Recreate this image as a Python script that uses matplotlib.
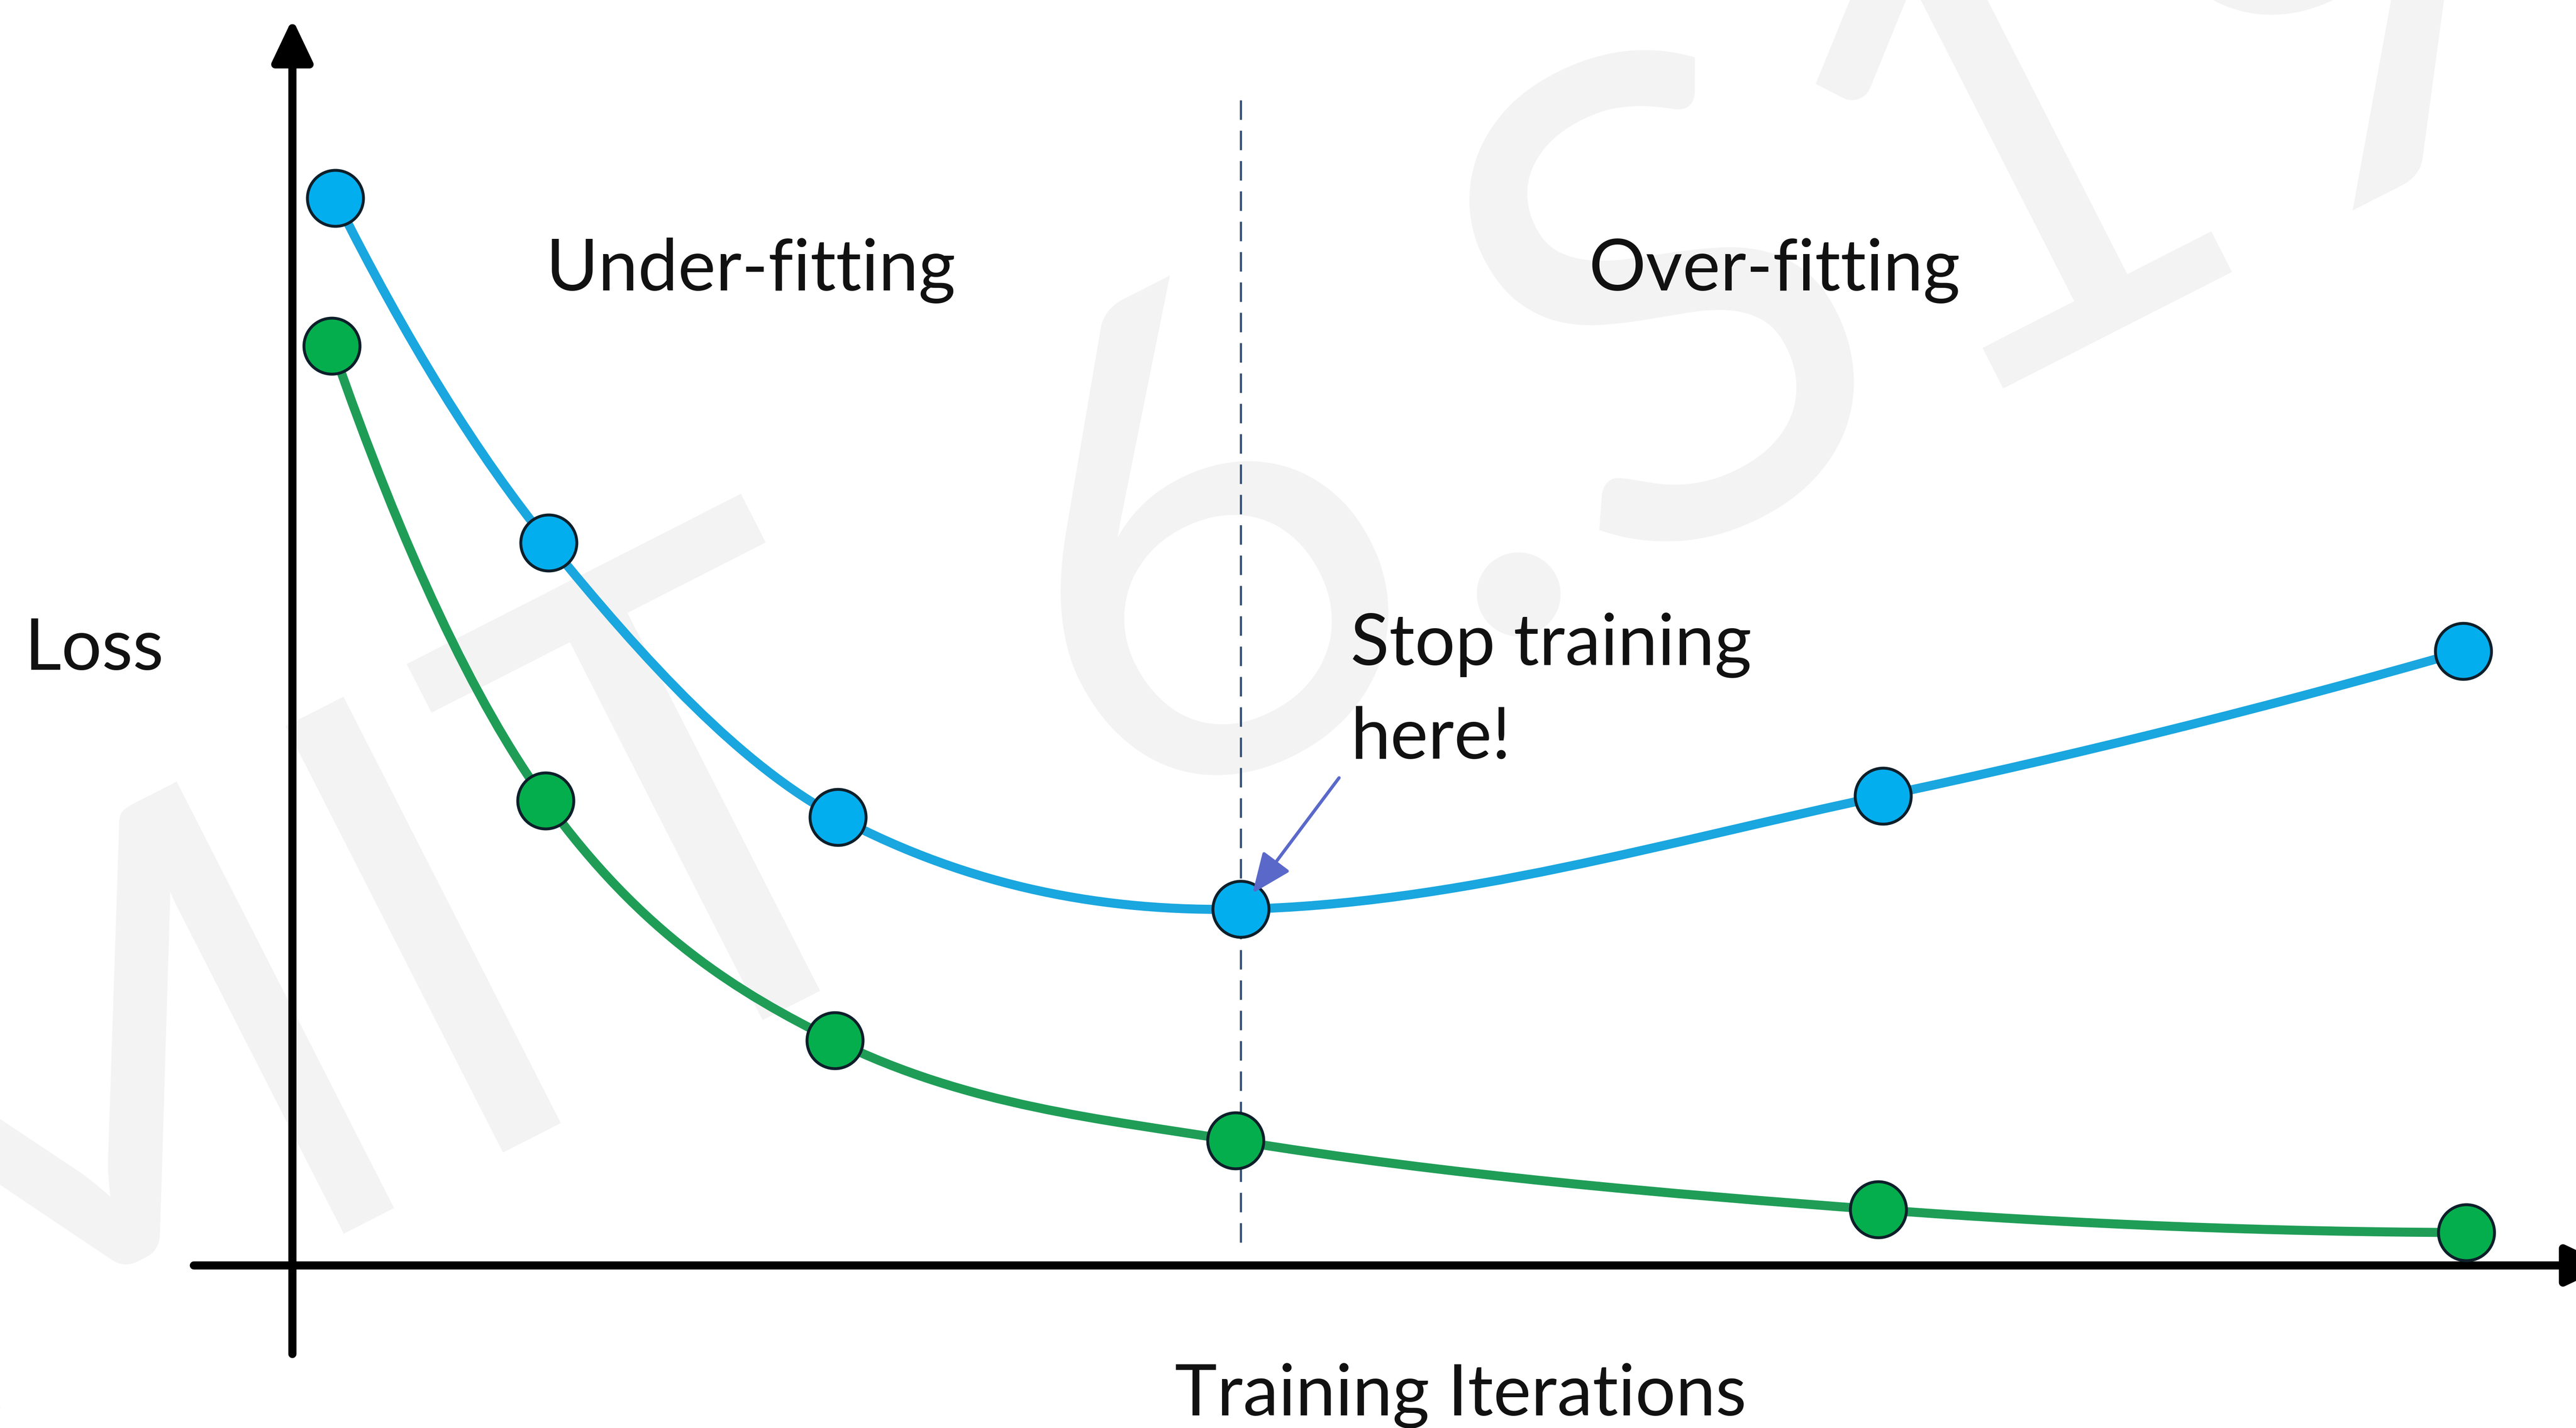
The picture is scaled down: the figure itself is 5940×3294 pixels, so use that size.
import numpy as np
import matplotlib
matplotlib.use("Agg")
import matplotlib.pyplot as plt
from matplotlib.path import Path
from matplotlib.patches import PathPatch

# data (arbitrary units)
val_iters = [1.97, 11.81, 25.13, 43.68, 73.28, 100.0]
val_loss = [100.0, 67.69, 42.0, 33.38, 44.0, 57.54]
train_iters = [1.82, 11.66, 24.98, 43.45, 73.05, 100.15]
train_loss = [86.15, 43.54, 21.08, 11.69, 5.23, 3.08]

region_labels = ["Under-fitting", "Over-fitting"]
x_label = "Training Iterations"
y_label = "Loss"
note_lines = ["Stop training", "here!"]
watermark = "MIT 6.S191"

blue_line, blue_fill = "#1aa6df", "#03aeee"
green_line, green_fill = "#1f9d57", "#05ae4c"
edge = "#0d1f2a"


def smooth_path(xs, ys):
    # cubic hermite through the points, drawn as bezier segments
    x = np.asarray(xs, float)
    y = np.asarray(ys, float)
    m = np.empty(len(x))
    m[1:-1] = (y[2:] - y[:-2]) / (x[2:] - x[:-2])
    m[0] = 2 * (y[1] - y[0]) / (x[1] - x[0]) - m[1]
    m[-1] = 2 * (y[-1] - y[-2]) / (x[-1] - x[-2]) - m[-2]
    verts = [(x[0], y[0])]
    codes = [Path.MOVETO]
    for i in range(len(x) - 1):
        h = x[i + 1] - x[i]
        verts += [(x[i] + h / 3, y[i] + m[i] * h / 3),
                  (x[i + 1] - h / 3, y[i + 1] - m[i + 1] * h / 3),
                  (x[i + 1], y[i + 1])]
        codes += [Path.CURVE4] * 3
    return Path(verts, codes)


fig = plt.figure(figsize=(19.8, 10.9833), dpi=300)
ax = fig.add_axes([0, 0, 1, 1])
ax.set_xlim(-13.47, 105.2)
ax.set_ylim(-15.23, 118.6)
ax.axis("off")

font = dict(family=["Lato", "DejaVu Sans"], fontweight="normal", color="#111111")

# faint watermark
ax.text(-0.0405, -0.0236, watermark, transform=ax.transAxes, rotation=27,
        rotation_mode="anchor", ha="left", va="baseline", fontsize=370,
        family=["Lato", "DejaVu Sans"], fontweight="normal", color="#f3f3f3", zorder=0)

# axes with arrow heads
axis_arrow = dict(arrowstyle="-|>,head_length=2.0,head_width=0.95", mutation_scale=10,
                  lw=4.5, color="black", shrinkA=0, shrinkB=0)
ax.annotate("", xy=(0, 116.8), xytext=(0, -8.3), arrowprops=axis_arrow,
            annotation_clip=False, zorder=2)
ax.annotate("", xy=(106.7, 0), xytext=(-4.54, 0), arrowprops=axis_arrow,
            annotation_clip=False, zorder=2)

# early stopping point
stop_idx = int(np.argmin(val_loss))
stop_x = val_iters[stop_idx]
ax.axvline(stop_x, ymin=0.13, ymax=0.933, color="#3b5274", lw=1.2,
           linestyle=(0, (9, 5)), zorder=3)

for xs, ys, lc, fc in [(val_iters, val_loss, blue_line, blue_fill),
                       (train_iters, train_loss, green_line, green_fill)]:
    ax.add_patch(PathPatch(smooth_path(xs, ys), fill=False, edgecolor=lc,
                           lw=5, capstyle="round", zorder=4))
    ax.plot(xs, ys, "o", ms=31, mfc=fc, mec=edge, mew=1.6, zorder=5)

ax.annotate("", xy=(stop_x, val_loss[stop_idx]), xytext=(54.5, 72.7),
            textcoords="offset points",
            arrowprops=dict(arrowstyle="-|>,head_length=1.9,head_width=0.8",
                            mutation_scale=10, lw=1.8, color="#5a69c9",
                            shrinkA=0, shrinkB=11), zorder=6)

fs = 39.5
ax.text(457 / 1568, 1 - 177 / 870, region_labels[0], transform=ax.transAxes,
        ha="center", va="baseline", fontsize=fs, **font)
ax.text(1080 / 1568, 1 - 177 / 870, region_labels[1], transform=ax.transAxes,
        ha="center", va="baseline", fontsize=fs, **font)
ax.text(15 / 1568, 1 - 408 / 870, y_label, transform=ax.transAxes,
        ha="left", va="baseline", fontsize=fs, **font)
ax.text(889 / 1568, 1 - 862 / 870, x_label, transform=ax.transAxes,
        ha="center", va="baseline", fontsize=fs, **font)
ax.text(822 / 1568, 1 - 405 / 870, note_lines[0], transform=ax.transAxes,
        ha="left", va="baseline", fontsize=fs, **font)
ax.text(822 / 1568, 1 - 462 / 870, note_lines[1], transform=ax.transAxes,
        ha="left", va="baseline", fontsize=fs, **font)

fig.savefig("out.png", dpi=300, facecolor="white")
